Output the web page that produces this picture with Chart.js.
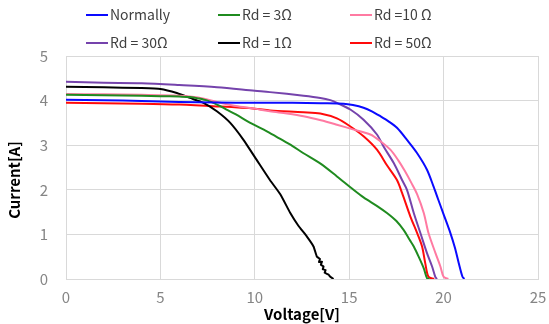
<!DOCTYPE html>
<html>
<head>
<meta charset="utf-8">
<script src="https://cdn.jsdelivr.net/npm/chart.js@4/dist/chart.umd.min.js"></script>
<style>
html,body{margin:0;padding:0;background:#fff;}
#wrap{position:relative;width:549px;height:324px;}
</style>
</head>
<body>
<div id="wrap"><canvas id="c" width="549" height="324"></canvas></div>
<script>
// ---- Data ----
const seriesLabels = ['Normally', 'Rd = 3Ω', 'Rd =10 Ω', 'Rd = 30Ω', 'Rd = 1Ω', 'Rd = 50Ω'];

const normallyV = [0, 2, 4, 6, 8, 10, 12, 13.5, 14.7, 15.2, 15.76, 16.2, 16.65, 17.1, 17.53, 18.06, 18.6, 19.12, 19.47, 19.7, 20.0, 20.36, 20.6, 20.8, 21.0, 21.1];
const normallyI = [4.02, 4.01, 3.99, 3.97, 3.96, 3.95, 3.95, 3.94, 3.93, 3.9, 3.84, 3.76, 3.65, 3.53, 3.39, 3.12, 2.82, 2.45, 2.07, 1.8, 1.45, 1.03, 0.7, 0.36, 0.05, 0];

const rd3V = [0, 2, 4, 5, 6, 6.57, 7, 7.5, 8, 8.5, 9, 9.76, 10.64, 11.35, 12, 12.58, 13.5, 14.35, 15.23, 15.76, 16.5, 17, 17.5, 17.88, 18.2, 18.42, 18.68, 18.95, 19.12, 19.25];
const rd3I = [4.13, 4.12, 4.11, 4.1, 4.09, 4.08, 4.05, 4.0, 3.91, 3.8, 3.69, 3.5, 3.31, 3.14, 2.98, 2.82, 2.58, 2.3, 2.0, 1.83, 1.63, 1.48, 1.3, 1.1, 0.88, 0.73, 0.5, 0.24, 0.02, 0];

const rd10V = [0, 2, 4, 6, 7, 8, 9, 10, 10.8, 11.7, 12.58, 13.5, 14.35, 15.24, 16.12, 16.65, 17.18, 17.6, 17.95, 18.3, 18.6, 18.95, 19.2, 19.57, 19.83, 20.0, 20.25];
const rd10I = [4.15, 4.14, 4.13, 4.11, 4.07, 3.97, 3.88, 3.82, 3.76, 3.71, 3.65, 3.56, 3.46, 3.35, 3.24, 3.09, 2.9, 2.66, 2.42, 2.15, 1.9, 1.48, 1.03, 0.58, 0.28, 0.05, 0];

const rd30V = [0, 2, 4, 6, 8, 10, 10.8, 12.58, 13.47, 14.0, 14.35, 15.06, 15.76, 16.47, 16.82, 17.36, 17.8, 18.06, 18.42, 18.77, 19.12, 19.39, 19.56, 19.65];
const rd30I = [4.42, 4.4, 4.39, 4.35, 4.3, 4.22, 4.19, 4.11, 4.06, 4.01, 3.95, 3.8, 3.57, 3.24, 2.97, 2.6, 2.22, 2.0, 1.48, 1.03, 0.58, 0.28, 0.05, 0];

const rd1V = [0, 2, 4, 5, 5.87, 6.57, 7.28, 7.99, 8.7, 9.4, 10.1, 10.8, 11.35, 11.88, 12.3, 12.76, 13.11, 13.29, 13.45, 13.4, 13.56, 13.5, 13.64, 13.6, 13.75, 13.7, 13.9, 14.0, 14.17];
const rd1I = [4.31, 4.3, 4.28, 4.26, 4.17, 4.06, 3.95, 3.76, 3.5, 3.12, 2.67, 2.22, 1.9, 1.48, 1.2, 0.95, 0.73, 0.5, 0.45, 0.38, 0.39, 0.32, 0.28, 0.22, 0.2, 0.14, 0.1, 0.05, 0];

const rd50V = [0, 2, 4, 6, 8, 10, 10.8, 12.58, 13.47, 14.35, 15.06, 15.76, 16.47, 17.0, 17.53, 17.8, 18.24, 18.6, 18.86, 19.03, 19.2, 19.5];
const rd50I = [3.95, 3.94, 3.93, 3.91, 3.87, 3.82, 3.78, 3.74, 3.71, 3.6, 3.42, 3.2, 2.9, 2.55, 2.22, 1.93, 1.4, 1.03, 0.73, 0.35, 0.05, 0];

const xTicks = [0, 5, 10, 15, 20, 25];
const yTicks = [0, 1, 2, 3, 4, 5];
const xTitle = 'Voltage[V]';
const yTitle = 'Current[A]';

// ---- Styles ----
const seriesColors = ['#0a0aff', '#1f8b1f', '#ff7aa2', '#7543ac', '#000000', '#ff0a0a'];
const seriesTension = [0.3, 0.3, 0.3, 0.3, 0.15, 0.3];
const seriesV = [normallyV, rd3V, rd10V, rd30V, rd1V, rd50V];
const seriesI = [normallyI, rd3I, rd10I, rd30I, rd1I, rd50I];

const toPoints = (vs, is) => vs.map((v, k) => ({x: v, y: is[k]}));

const datasets = seriesLabels.map((lab, i) => ({
  label: lab,
  data: toPoints(seriesV[i], seriesI[i]),
  borderColor: seriesColors[i],
  backgroundColor: seriesColors[i],
  borderWidth: 2,
  pointRadius: 0,
  tension: seriesTension[i],
  fill: false
}));

const legendColX = [86, 218, 350];
const legendRowY = [15, 43];

const customLegend = {
  id: 'customLegend',
  afterDraw(chart) {
    const ctx = chart.ctx;
    ctx.save();
    ctx.font = '14px "Noto Sans CJK JP"';
    ctx.textBaseline = 'middle';
    ctx.textAlign = 'left';
    chart.data.datasets.forEach((ds, i) => {
      const x = legendColX[i % 3];
      const y = legendRowY[Math.floor(i / 3)];
      ctx.strokeStyle = ds.borderColor;
      ctx.lineWidth = 2;
      ctx.beginPath();
      ctx.moveTo(x, y);
      ctx.lineTo(x + 22, y);
      ctx.stroke();
      ctx.fillStyle = '#404040';
      ctx.fillText(ds.label, x + 24, y);
    });
    // y-axis title
    ctx.translate(14, 180);
    ctx.rotate(-Math.PI / 2);
    ctx.font = 'bold 15px "Noto Sans CJK JP"';
    ctx.textAlign = 'center';
    ctx.fillStyle = '#000000';
    ctx.fillText(yTitle, 0, 0);
    ctx.restore();
  }
};

new Chart(document.getElementById('c'), {
  type: 'line',
  data: { datasets },
  options: {
    responsive: false,
    animation: false,
    layout: { padding: { top: 56, right: 11, left: 0, bottom: 0 } },
    plugins: { legend: { display: false }, tooltip: { enabled: false } },
    scales: {
      x: {
        type: 'linear',
        min: xTicks[0], max: xTicks[xTicks.length - 1],
        afterBuildTicks: s => { s.ticks = xTicks.map(v => ({value: v})); },
        afterFit: s => { s.height = 45; s.paddingLeft = 0; s.paddingRight = 0; },
        grid: { color: '#d9d9d9', lineWidth: 1, drawTicks: false },
        border: { color: '#d9d9d9' },
        ticks: { color: '#858585', font: { family: '"Noto Sans CJK JP"', size: 15 }, padding: 9, maxRotation: 0 },
        title: { display: true, text: xTitle, color: '#000', font: { family: '"Noto Sans CJK JP"', size: 15, weight: 'bold' }, padding: { top: 0, bottom: 1 } }
      },
      y: {
        type: 'linear',
        min: yTicks[0], max: yTicks[yTicks.length - 1],
        afterBuildTicks: s => { s.ticks = yTicks.map(v => ({value: v})); },
        afterFit: s => { s.width = 66; s.paddingTop = 0; s.paddingBottom = 0; },
        grid: { color: '#d9d9d9', lineWidth: 1, drawTicks: false },
        border: { color: '#d9d9d9' },
        ticks: { color: '#858585', font: { family: '"Noto Sans CJK JP"', size: 15 }, padding: 18 }
      }
    }
  },
  plugins: [customLegend]
});
</script>
</body>
</html>
